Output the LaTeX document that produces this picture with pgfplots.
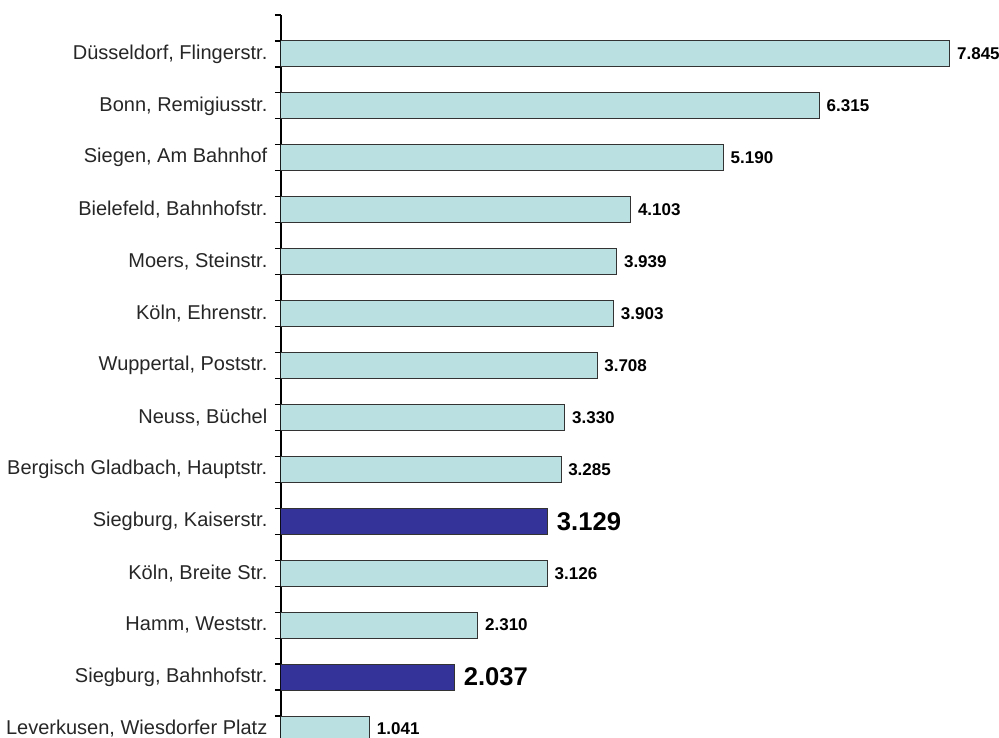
\documentclass[border=0pt]{standalone}
\usepackage{fontspec}
\setmainfont{Liberation Sans}
\usepackage{pgfplots}
\pgfplotsset{compat=1.18}

\definecolor{lightbar}{HTML}{BAE0E2}
\definecolor{darkbar}{HTML}{333399}

\begin{document}
\begin{tikzpicture}
\begin{axis}[
    xbar,
    scale only axis,
    width=359pt,
    height=361.4pt,
    xmin=0, xmax=8.42,
    ymin=-0.75, ymax=13.17,
    y dir=reverse,
    axis x line=none,
    axis y line*=left,
    axis line style={black, line width=0.6pt},
    bar width=0.5,
    bar shift=0pt,
    ytick={0,...,13},
    yticklabels={{Düsseldorf, Flingerstr.},{Bonn, Remigiusstr.},{Siegen, Am Bahnhof},
        {Bielefeld, Bahnhofstr.},{Moers, Steinstr.},{Köln, Ehrenstr.},
        {Wuppertal, Poststr.},{Neuss, Büchel},{Bergisch Gladbach, Hauptstr.},
        {Siegburg, Kaiserstr.},{Köln, Breite Str.},{Hamm, Weststr.},
        {Siegburg, Bahnhofstr.},{Leverkusen, Wiesdorfer Platz}},
    major tick length=0pt,
    minor ytick={-0.75,-0.25,...,12.8},
    minor tick length=3pt,
    tick align=outside,
    tick style={black, line width=0.6pt},
    yticklabel style={font=\fontsize{10}{12}\selectfont, text=black!85, xshift=-3.3pt},
    point meta=explicit symbolic,
    nodes near coords,
    nodes near coords align=horizontal,
]
\addplot[fill=lightbar, draw=black!80, line width=0.5pt,
    nodes near coords style={anchor=west, font=\fontsize{8.5}{10}\bfseries, text=black}]
    coordinates {
    (7.845,0) [7.845]
    (6.315,1) [6.315]
    (5.190,2) [5.190]
    (4.103,3) [4.103]
    (3.939,4) [3.939]
    (3.903,5) [3.903]
    (3.708,6) [3.708]
    (3.330,7) [3.330]
    (3.285,8) [3.285]
    (3.126,10) [3.126]
    (2.310,11) [2.310]
    (1.041,13) [1.041]
};
\addplot[fill=darkbar, draw=black!80, line width=0.5pt,
    nodes near coords style={anchor=west, font=\fontsize{12.8}{15}\bfseries, text=black, xshift=1pt}]
    coordinates {
    (3.129,9) [3.129]
    (2.037,12) [2.037]
};
\end{axis}
\pgfresetboundingbox
\path[use as bounding box] ([xshift=-140.5pt]current axis.south west) rectangle ([yshift=7.5pt]current axis.north east);
\end{tikzpicture}
\end{document}
